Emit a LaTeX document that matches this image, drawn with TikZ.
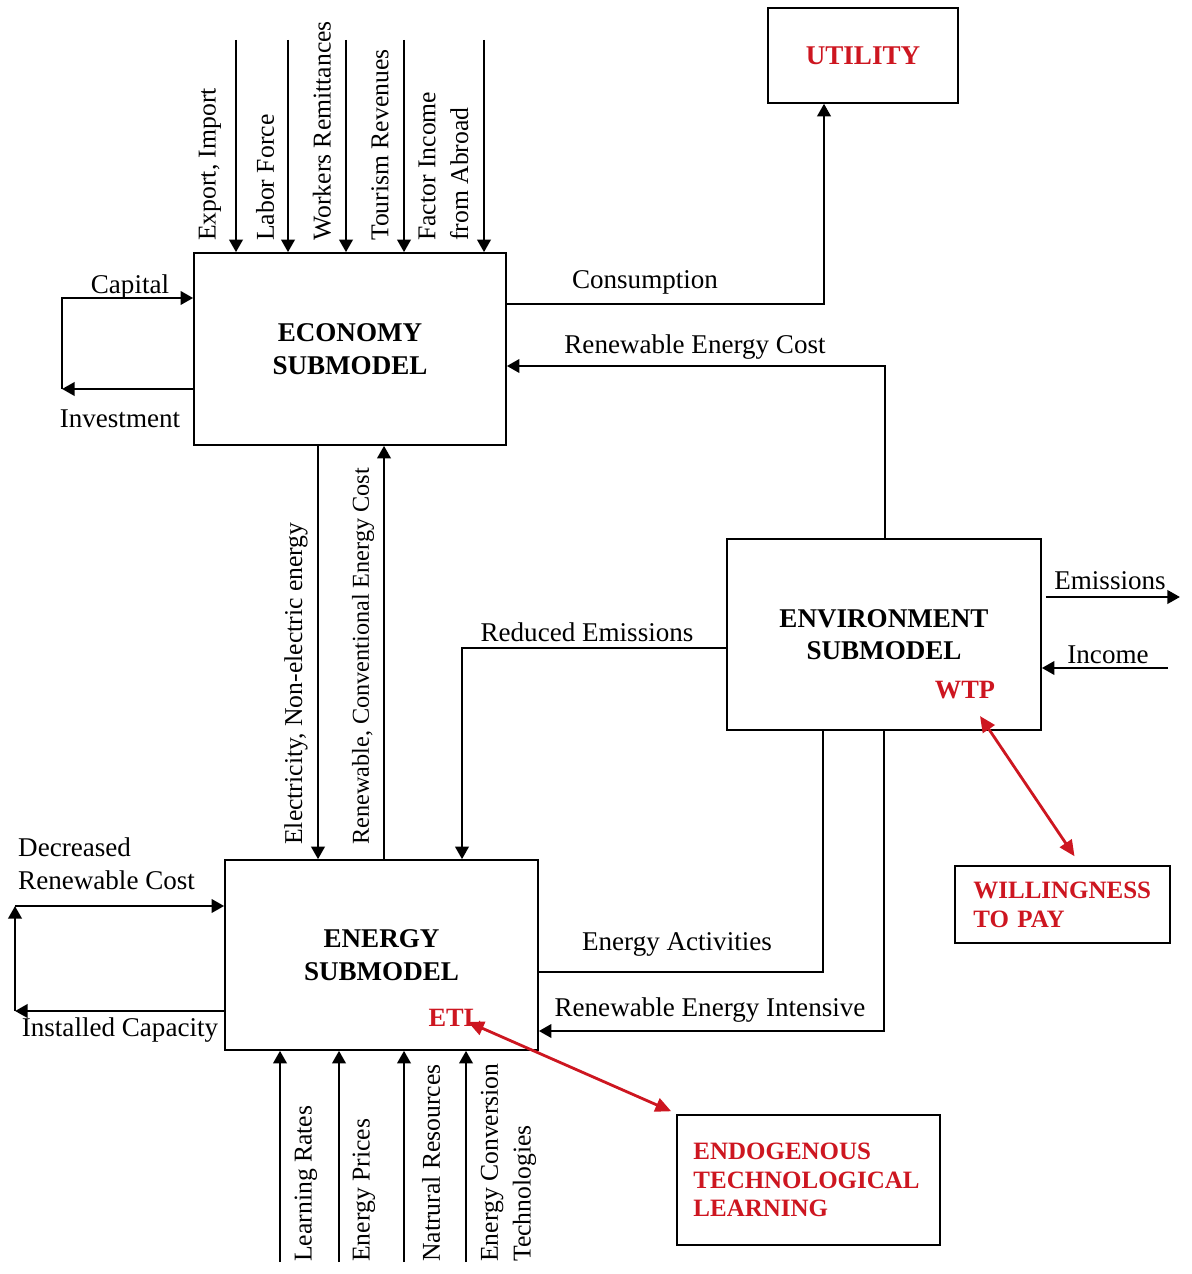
\documentclass[tikz,border=0pt]{standalone}
\usepackage{fontspec}
\setmainfont{Liberation Serif}
\usetikzlibrary{arrows.meta}

\begin{document}
\begin{tikzpicture}[x=0.01cm, y=-0.01cm,
    every node/.style={font=\fontsize{7.7}{9.3}\selectfont},
    box/.style={draw, line width=0.4pt, align=center, font=\fontsize{7.7}{9.2}\selectfont\bfseries},
    redbox/.style={draw, line width=0.4pt, align=left, text=etlred, font=\fontsize{7.1}{8.2}\selectfont\bfseries},
    redlbl/.style={inner sep=1pt, text=etlred, font=\fontsize{7.5}{9}\selectfont\bfseries},
    lbl/.style={inner sep=1pt},
    vlbl/.style={inner sep=1pt, rotate=90, anchor=west, align=left, font=\fontsize{7.3}{9.3}\selectfont},
    flow/.style={line width=0.8pt, -{Triangle[length=3.6pt,width=3.8pt]}},
    link/.style={line width=0.8pt},
    redflow/.style={draw=etlred, line width=0.8pt, {Triangle[length=4.5pt,width=4pt]}-{Triangle[length=4.5pt,width=4pt]}}]

    % Цвета
    \definecolor{etlred}{RGB}{205,22,32}

    \useasboundingbox (0,0) rectangle (1191,1274);

    % Подмодели
    \node[box, minimum width=3.12cm, minimum height=1.92cm] (economy) at (350,349) {ECONOMY\\SUBMODEL};
    \node[box, minimum width=3.13cm, minimum height=1.9cm] (energy) at (381.5,955) {ENERGY\\SUBMODEL};
    \node[box, minimum width=3.14cm, minimum height=1.91cm] (environment) at (884,634.5) {ENVIRONMENT\\SUBMODEL};
    \node[box, text=etlred, minimum width=1.9cm, minimum height=0.95cm] (utility) at (863,55.5) {UTILITY};

    % Красные блоки
    \node[redbox, text width=1.78cm, inner xsep=0.185cm, minimum height=0.77cm] (willing) at (1062.5,904.5) {WILLINGNESS\\TO PAY};
    \node[redbox, text width=2.3cm, inner xsep=0.165cm, minimum height=1.3cm] (learning) at (808.5,1180) {ENDOGENOUS\\TECHNOLOGICAL\\LEARNING};
    \node[redlbl] (wtp) at (965,690) {WTP};
    \node[redlbl] (etl) at (455,1018) {ETL};

    % Входы экономики
    \foreach \x [count=\n] in {236,288,346,404,484}
        \coordinate (top\n) at (\x,40);
    \foreach \n in {1,...,5}
        \draw[flow] (top\n) -- (top\n |- economy.north);

    \node[vlbl] (lexport) at (210,245) {Export, Import};
    \node[vlbl] (llabor) at (265,245) {Labor Force};
    \node[vlbl] (lremit) at (322,245) {Workers Remittances};
    \node[vlbl] (ltourism) at (380,245) {Tourism Revenues};
    \node[vlbl] (lfactor) at (443.5,245) {Factor Income\\from Abroad};

    % Входы энергетики
    \foreach \x [count=\n] in {280,339,404,466}
        \coordinate (bot\n) at (\x,1262);
    \foreach \n in {1,...,4}
        \draw[flow] (bot\n) -- (bot\n |- energy.south);

    \node[vlbl] (llearn) at (306,1266) {Learning Rates};
    \node[vlbl] (lprice) at (364,1266) {Energy Prices};
    \node[vlbl] (lres) at (431,1266) {Natrural Resources};
    \node[vlbl] (ltech) at (508.5,1266) {Energy Conversion\\Technologies};

    % Экономика <-> энергетика
    \coordinate (elec) at (318,650);
    \coordinate (conv) at (384,650);
    \draw[flow] (elec |- economy.south) -- (elec |- energy.north);
    \draw[flow] (conv |- energy.north) -- (conv |- economy.south);
    \node[vlbl] (lelec) at (296,849) {Electricity, Non-electric energy};
    \node[vlbl, font=\fontsize{6.9}{9}\selectfont] (lconv) at (363,849) {Renewable, Conventional Energy Cost};

    % Петля капитала
    \coordinate (cap) at (62,298);
    \coordinate (inv) at (62,389);
    \draw[flow] (inv -| economy.west) -- (inv);
    \draw[flow] (inv) -- (cap) -- (cap -| economy.west);
    \node[lbl] (lcap) at (130,287) {Capital};
    \node[lbl] (linv) at (120,419) {Investment};

    % Петля мощностей
    \coordinate (decr) at (15,906);
    \coordinate (inst) at (15,1011);
    \draw[flow] (inst -| energy.west) -- (inst);
    \draw[flow] (inst) -- (decr);
    \draw[flow] (decr) -- (decr -| energy.west);
    \node[lbl, anchor=west, align=left] (ldecr) at (14,864) {Decreased\\Renewable Cost};
    \node[lbl] (linst) at (120,1030) {Installed Capacity};

    % Потребление и стоимость
    \coordinate (cons) at (824,304);
    \coordinate (rcost) at (885,366);
    \draw[flow] (cons -| economy.east) -- (cons) -- (cons |- utility.south);
    \draw[flow] (rcost |- environment.north) -- (rcost) -- (rcost -| economy.east);
    \node[lbl] (lcons) at (645,282) {Consumption};
    \node[lbl] (lrcost) at (695,347) {Renewable Energy Cost};

    % Связи среды
    \coordinate (redem) at (462,648);
    \coordinate (emis) at (1180,597);
    \coordinate (inc) at (1168,668);
    \coordinate (enact) at (823,972);
    \coordinate (renint) at (884,1031);
    \draw[flow] (redem -| environment.west) -- (redem) -- (redem |- energy.north);
    \draw[flow, shorten <=0.04cm] (emis -| environment.east) -- (emis);
    \draw[flow] (inc) -- (inc -| environment.east);
    \draw[link] (enact -| energy.east) -- (enact) -- (enact |- environment.south);
    \draw[flow] (renint |- environment.south) -- (renint) -- (renint -| energy.east);
    \node[lbl] (lredem) at (587,632) {Reduced Emissions};
    \node[lbl] (lemis) at (1110,581) {Emissions};
    \node[lbl] (linc) at (1108,655) {Income};
    \node[lbl] (lenact) at (677,944) {Energy Activities};
    \node[lbl] (lrenint) at (710,1010) {Renewable Energy Intensive};

    % Красные стрелки
    \draw[redflow] ([xshift=0.15cm,yshift=-0.13cm]wtp.south) -- ([xshift=0.12cm,yshift=0.09cm]willing.north);
    \draw[redflow] ([xshift=0.13cm,yshift=-0.04cm]etl.center) -- ([xshift=-0.05cm,yshift=0.03cm]learning.north west);
\end{tikzpicture}
\end{document}
